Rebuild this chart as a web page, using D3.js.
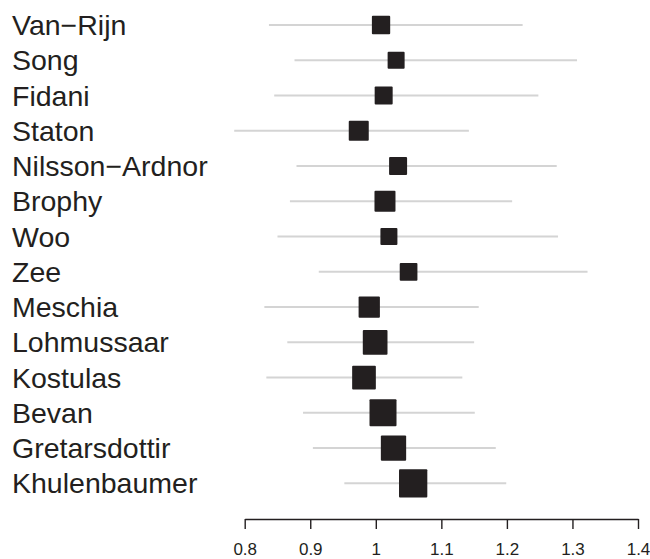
<!DOCTYPE html>
<meta charset="utf-8">
<script src="https://d3js.org/d3.v7.min.js"></script>
<style>
  body { margin: 0; background: #fff; }
</style>
<body>
<div id="my_dataviz"></div>
<script>
var studies = ["Van\u2212Rijn", "Song", "Fidani", "Staton", "Nilsson\u2212Ardnor", "Brophy", "Woo",
  "Zee", "Meschia", "Lohmussaar", "Kostulas", "Bevan", "Gretarsdottir", "Khulenbaumer"];
var estimate = [1.008, 1.031, 1.012, 0.974, 1.034, 1.014, 1.020, 1.050, 0.990, 0.999, 0.982, 1.011, 1.027, 1.057];
var lower    = [0.837, 0.876, 0.845, 0.784, 0.879, 0.869, 0.850, 0.913, 0.830, 0.865, 0.833, 0.889, 0.904, 0.952];
var upper    = [1.224, 1.307, 1.248, 1.142, 1.276, 1.208, 1.278, 1.323, 1.157, 1.150, 1.132, 1.151, 1.183, 1.199];
var weight   = [18.3, 17.0, 18.0, 20.0, 18.0, 21.0, 17.0, 17.7, 21.3, 24.7, 23.7, 27.0, 25.3, 28.3];
var xTicks   = [0.8, 0.9, 1, 1.1, 1.2, 1.3, 1.4];

var width = 650, height = 559;

var svg = d3.select("#my_dataviz")
  .append("svg")
    .attr("width", width)
    .attr("height", height);

var x = d3.scaleLinear()
  .domain([0.8, 1.4])
  .range([244.7, 638]);

var y = d3.scalePoint()
  .domain(studies)
  .range([25, 483.3]);

var size = d3.scaleLinear()
  .domain([0, d3.max(weight)])
  .range([0, 28.3]);

var rows = studies.map(function(s, i) {
  return { name: s, est: estimate[i], lo: lower[i], hi: upper[i], w: weight[i] };
});

// confidence intervals
svg.selectAll(".ci")
  .data(rows)
  .enter().append("line")
    .attr("x1", function(d) { return x(d.lo); })
    .attr("x2", function(d) { return x(d.hi); })
    .attr("y1", function(d) { return y(d.name); })
    .attr("y2", function(d) { return y(d.name); })
    .attr("stroke", "#d4d4d4")
    .attr("stroke-width", 2);

// point estimates
svg.selectAll(".box")
  .data(rows)
  .enter().append("rect")
    .attr("x", function(d) { return x(d.est) - size(d.w) / 2; })
    .attr("y", function(d) { return y(d.name) - size(d.w) / 2; })
    .attr("width", function(d) { return size(d.w); })
    .attr("height", function(d) { return size(d.w); })
    .attr("rx", 1)
    .attr("fill", "#231f20");

// study labels
svg.selectAll(".lab")
  .data(rows)
  .enter().append("text")
    .attr("x", 12)
    .attr("y", function(d) { return y(d.name) + 10; })
    .style("font-family", "'Liberation Sans', Arial, sans-serif")
    .style("font-size", "28.5px")
    .attr("fill", "#231f20")
    .text(function(d) { return d.name; });

// axis
var axis = svg.append("g")
  .attr("transform", "translate(0,519)")
  .call(d3.axisBottom(x)
    .tickValues(xTicks)
    .tickFormat(d3.format("~g"))
    .tickSize(10)
    .tickSizeOuter(0)
    .tickPadding(14));

axis.select(".domain").attr("stroke", "#231f20").attr("stroke-width", 1.4);
axis.selectAll(".tick line").attr("stroke", "#231f20").attr("stroke-width", 1.4);
axis.selectAll(".tick text")
  .style("font-family", "'Liberation Sans', Arial, sans-serif")
  .style("font-size", "17px")
  .attr("fill", "#231f20");
</script>
</body>
